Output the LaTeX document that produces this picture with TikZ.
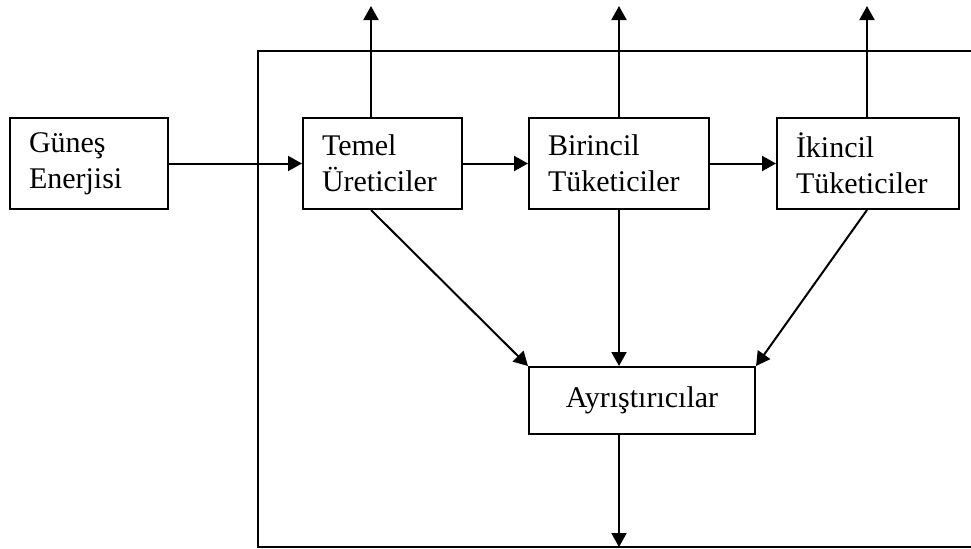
\documentclass[tikz,border=0pt]{standalone}
\usepackage{fontspec}
\setmainfont{Liberation Serif}
\usetikzlibrary{arrows.meta}

\newcommand{\px}{0.5pt}
\newcommand{\linew}{1pt}

\tikzset{
  unit/.style={draw, line width=\linew, inner xsep=9.5pt, inner ysep=0pt,
    align=left, minimum height=45.5pt, font=\fontsize{15pt}{18pt}\selectfont},
  flow/.style={line width=\linew, -{Triangle[length=7pt,width=7.5pt]}}
}

\begin{document}
\begin{tikzpicture}[x=\px, y=-\px]
\useasboundingbox (0,0) rectangle (971,548);

  % outer frame (runs off the right edge)
  \coordinate (R1) at (258, 51);
  \coordinate (R2) at (971, 51);
  \coordinate (R3) at (258, 547);
  \coordinate (R4) at (971, 547);
  \draw [line width=\linew] (R2) -- (R1) -- (R3) -- (R4);

  % boxes
  \node [unit, text width=60pt]   (gunes)    at (89, 163.5)  {Güneş\\Enerjisi};
  \node [unit, text width=60.5pt] (temel)    at (382.5, 163.5) {Temel\\Üreticiler};
  \node [unit, text width=71pt]   (birincil) at (619, 163.5) {Birincil\\Tüketiciler};
  \node [unit, text width=72pt]   (ikincil)  at (868, 163.5) {İkincil\\Tüketiciler};
  \node [unit, align=center, minimum width=113pt, minimum height=33.5pt] (ayr) at (642, 400.5) {Ayrıştırıcılar};

  % outputs at the top
  \coordinate (T1) at (371, 6);
  \coordinate (T2) at (619, 6);
  \coordinate (T3) at (867, 6);

  \draw [flow] (gunes) -- (temel);
  \draw [flow] (temel) -- (birincil);
  \draw [flow] (birincil) -- (ikincil);

  \draw [flow] (temel.north -| T1) -- (T1);
  \draw [flow] (birincil.north -| T2) -- (T2);
  \draw [flow] (ikincil.north -| T3) -- (T3);

  \draw [flow] (temel.south -| T1) -- (ayr.north west);
  \draw [flow] (birincil.south) -- (ayr.north -| birincil.south);
  \draw [flow] (ikincil.south -| T3) -- (ayr.north east);

  \draw [flow] (ayr.south -| birincil.south) -- (R3 -| birincil.south);

\end{tikzpicture}
\end{document}
